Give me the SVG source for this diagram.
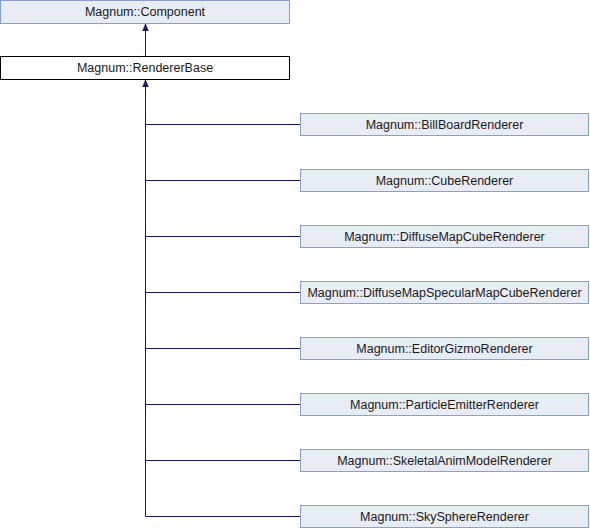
<svg xmlns="http://www.w3.org/2000/svg" width="590" height="528" viewBox="0 0 590 528">
<style>
.n rect{fill:#e8ecf5;stroke:#8aa0cc;stroke-width:1}
.n.cur rect{fill:#ffffff;stroke:#000000}
.n text{font-family:"Liberation Sans",Arial,sans-serif;font-size:12.5px;fill:#1a1a1a;text-anchor:middle}
.e{stroke:#191970;stroke-width:1;fill:none}
</style>
<defs>
<marker id="ah" viewBox="0 0 10 10" refX="10" refY="5" markerWidth="7" markerHeight="7" markerUnits="userSpaceOnUse" orient="auto">
<path d="M0,1 L10,5 L0,9 Z" fill="#191970" stroke="#191970"/>
</marker>
</defs>
<g id="connectors">
<path class="e" d="M145.5,56.5 V24" marker-end="url(#ah)"/>
<path class="e" d="M145.5,516.5 V80" marker-end="url(#ah)"/>
<path class="e" d="M145.5,124.5 H300.5"/>
<path class="e" d="M145.5,180.5 H300.5"/>
<path class="e" d="M145.5,236.5 H300.5"/>
<path class="e" d="M145.5,292.5 H300.5"/>
<path class="e" d="M145.5,348.5 H300.5"/>
<path class="e" d="M145.5,404.5 H300.5"/>
<path class="e" d="M145.5,460.5 H300.5"/>
<path class="e" d="M145.5,516.5 H300.5"/>
</g>
<g id="component" class="n"><rect x="0.5" y="0.5" width="289" height="23"/><text x="145" y="16">Magnum::Component</text></g>
<g id="rendererbase" class="n cur"><rect x="0.5" y="56.5" width="289" height="23"/><text x="145" y="72">Magnum::RendererBase</text></g>
<g id="billboard" class="n"><rect x="300.5" y="113.5" width="288" height="22"/><text x="444.5" y="128.5">Magnum::BillBoardRenderer</text></g>
<g id="cube" class="n"><rect x="300.5" y="169.5" width="288" height="22"/><text x="444.5" y="184.5">Magnum::CubeRenderer</text></g>
<g id="diffusecube" class="n"><rect x="300.5" y="225.5" width="288" height="22"/><text x="444.5" y="240.5">Magnum::DiffuseMapCubeRenderer</text></g>
<g id="diffusespec" class="n"><rect x="300.5" y="281.5" width="288" height="22"/><text x="444.5" y="296.5">Magnum::DiffuseMapSpecularMapCubeRenderer</text></g>
<g id="gizmo" class="n"><rect x="300.5" y="337.5" width="288" height="22"/><text x="444.5" y="352.5">Magnum::EditorGizmoRenderer</text></g>
<g id="particle" class="n"><rect x="300.5" y="393.5" width="288" height="22"/><text x="444.5" y="408.5">Magnum::ParticleEmitterRenderer</text></g>
<g id="skeletal" class="n"><rect x="300.5" y="449.5" width="288" height="22"/><text x="444.5" y="464.5">Magnum::SkeletalAnimModelRenderer</text></g>
<g id="skysphere" class="n"><rect x="300.5" y="505.5" width="288" height="22"/><text x="444.5" y="520.5">Magnum::SkySphereRenderer</text></g>
</svg>
